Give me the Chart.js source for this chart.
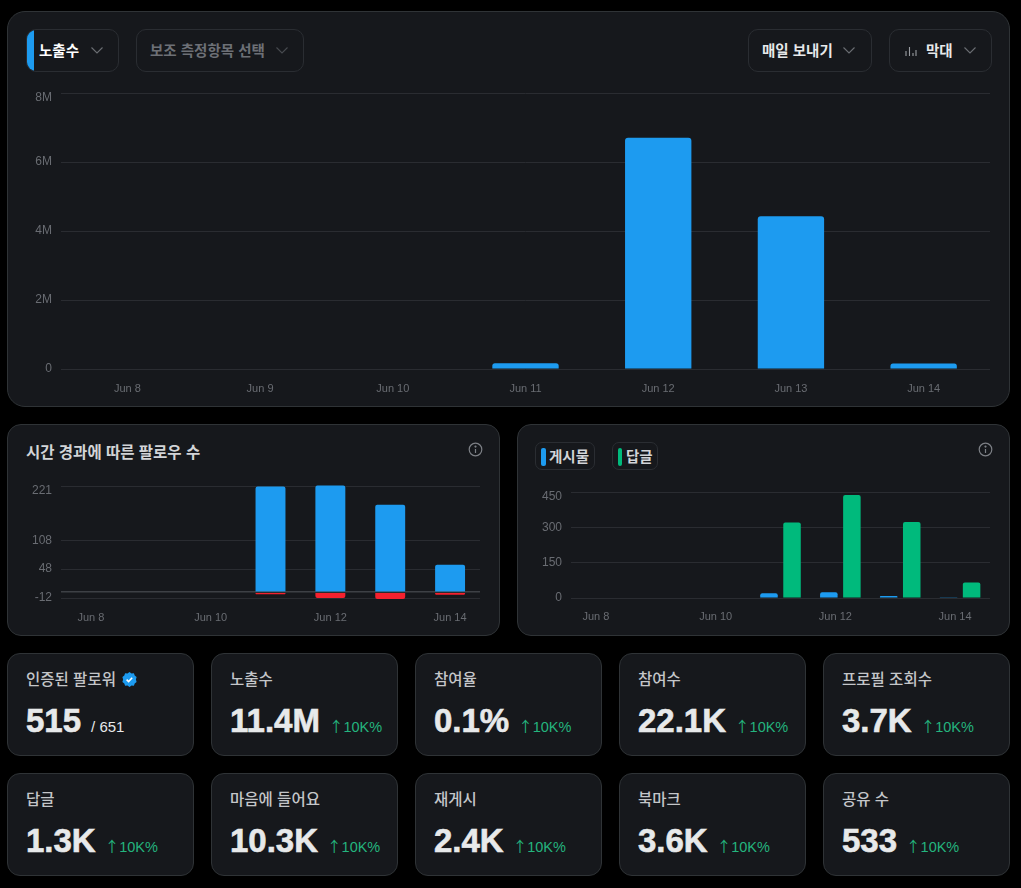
<!DOCTYPE html>
<html lang="ko">
<head>
<meta charset="utf-8">
<title>Analytics</title>
<script src="https://cdn.jsdelivr.net/npm/chart.js@4"></script>
<style>
    * { box-sizing: border-box; }
    html, body { margin: 0; padding: 0; background: #000; }
    body { position: relative; width: 1021px; height: 888px; overflow: hidden; font-family: "Liberation Sans", "Noto Sans CJK KR", sans-serif; }

    .card { position: absolute; background: #16181c; border: 1px solid #2f3336; border-radius: 14px; }
    .abs { position: absolute; }
    .chart-box { position: absolute; }

    .pill { position: absolute; top: 29px; height: 43px; border: 1px solid #2a2d32; border-radius: 10px; overflow: hidden; }
    .pill-text { position: absolute; top: 49px; transform: translateY(-50%); font: 700 14.5px "Noto Sans CJK KR", sans-serif; color: #e7e9ea; white-space: nowrap; }
    .chevron { position: absolute; top: 47px; }

    .title { position: absolute; left: 26px; top: 451px; transform: translateY(-50%); font: 700 15.5px "Noto Sans CJK KR", sans-serif; color: #d2d4d7; }
    .legend-pill { position: absolute; top: 442px; height: 28px; border: 1px solid #2a2d32; border-radius: 7px; }
    .legend-mark { position: absolute; top: 448px; width: 4.5px; height: 18px; border-radius: 2px; }
    .legend-text { position: absolute; top: 455px; transform: translateY(-50%); font: 700 14.5px "Noto Sans CJK KR", sans-serif; color: #d2d4d7; }

    .stat { border-radius: 13px; }
    .stat-label { position: absolute; left: 18px; top: 24px; transform: translateY(-50%); font: 500 15.5px "Noto Sans CJK KR", sans-serif; color: #c4c6c9; white-space: nowrap; }
    .stat-row { position: absolute; left: 18px; top: 48px; display: flex; align-items: baseline; white-space: nowrap; }
    .stat-value { font: 700 33px/38px "Liberation Sans", sans-serif; color: #e7e9ea; -webkit-text-stroke: 0.6px #e7e9ea; }
    .stat-delta { margin-left: 9px; font: 400 14.5px "Liberation Sans", sans-serif; color: #24b47e; }
    .stat-delta span { font-family: "Noto Sans CJK KR", sans-serif; }
    .stat-sub { margin-left: 10px; font: 400 15px "Liberation Sans", sans-serif; color: #e7e9ea; }
</style>
</head>
<body>

<div class="card" style="left:7px; top:11px; width:1002.5px; height:395.5px; border-radius:18px;"></div>
<div class="card" style="left:7px; top:424px; width:492.5px; height:211.5px;"></div>
<div class="card" style="left:517px; top:424px; width:492.5px; height:211.5px;"></div>

<!-- top controls -->
<div class="pill" style="left:26px; width:93px;"><div class="abs" style="left:-1px; top:-1px; width:8px; height:43px; background:#1d9bf0;"></div></div>
<div class="pill-text" style="left:39px; color:#fff;">노출수</div>
<div class="pill" style="left:136px; width:168px;"></div>
<div class="pill-text" style="left:150px; color:#6d7076;">보조 측정항목 선택</div>
<div class="pill" style="left:748px; width:124px;"></div>
<div class="pill-text" style="left:762px;">매일 보내기</div>
<div class="pill" style="left:889px; width:103px;"></div>
<div class="pill-text" style="left:926px;">막대</div>
<svg class="abs" style="left:905px; top:45px;" width="12" height="12" viewBox="0 0 12 12" stroke="#9a9da2" stroke-width="1.1"><path d="M1 11V6M4.5 11V2M8 11V8M11 11V5"/></svg>

<!-- small chart headers -->
<div class="title">시간 경과에 따른 팔로우 수</div>
<div id="legendBox"></div>

<div class="chart-box" style="left:7px; top:85px; width:1002px; height:315px;"><canvas id="impressionChart" width="1002" height="315"></canvas></div>
<div class="chart-box" style="left:7px; top:472px; width:492px; height:158px;"><canvas id="followChart" width="492" height="158"></canvas></div>
<div class="chart-box" style="left:517px; top:478px; width:492px; height:152px;"><canvas id="postChart" width="492" height="152"></canvas></div>

<div id="statBox"></div>

<script>
// data
const days = ['Jun 8', 'Jun 9', 'Jun 10', 'Jun 11', 'Jun 12', 'Jun 13', 'Jun 14'];

const impressions = [0, 0, 0, 170000, 6700000, 4430000, 160000];
const impressionTicks = [0, 2000000, 4000000, 6000000, 8000000];

const followsGained = [0, 0, 0, 220, 222, 182, 57];
const followsLost = [0, 0, 0, -4, -12, -14, -5];
const followTicks = [-12, 0, 48, 108, 221];

const postCounts = [0, 0, 0, 20, 24, 9, 3];
const replyCounts = [0, 0, 0, 321, 437, 323, 66];
const postTicks = [0, 150, 300, 450];

const legendNames = ['게시물', '답글'];

const statLabels = ['인증된 팔로워', '노출수', '참여율', '참여수', '프로필 조회수', '답글', '마음에 들어요', '재게시', '북마크', '공유 수'];
const statValues = ['515', '11.4M', '0.1%', '22.1K', '3.7K', '1.3K', '10.3K', '2.4K', '3.6K', '533'];
const statDelta = '10K%';

const BLUE = '#1d9bf0';
const GREEN = '#00ba7c';
const RED = '#f4212e';
const GRID = '#2a2c31';
const TICK = '#696c72';


// small inline icons
function addChevron(left, color) {
    document.body.insertAdjacentHTML('beforeend',
        `<svg class="chevron" style="left:${left}px" width="12" height="7" viewBox="0 0 12 7" fill="none" stroke="${color}" stroke-width="1.1"><path d="M.5 .5l5.5 5.5L11.5 .5"/></svg>`);
}
addChevron(91, '#6b6e73');
addChevron(276, '#484b50');
addChevron(843, '#6b6e73');
addChevron(964, '#6b6e73');

function addInfo(left) {
    document.body.insertAdjacentHTML('beforeend',
        `<svg class="abs" style="left:${left}px; top:442px" width="15" height="15" viewBox="0 0 15 15" fill="none" stroke="#7d8086" stroke-width="1.2"><circle cx="7.5" cy="7.5" r="6.3"/><path d="M7.5 7v4"/><circle cx="7.5" cy="4.6" r=".5" fill="#7d8086"/></svg>`);
}
[467.5, 977.5].forEach(addInfo);


// legend of the right chart
const legendBox = document.getElementById('legendBox');
const legendSpots = [
    { pill: 535, width: 60, mark: 541, text: 549, color: BLUE },
    { pill: 612, width: 46, mark: 617.5, text: 626, color: GREEN }
];
legendNames.forEach((name, i) => {
    const s = legendSpots[i];
    legendBox.innerHTML += `
        <div class="legend-pill" style="left:${s.pill}px; width:${s.width}px"></div>
        <div class="legend-mark" style="left:${s.mark}px; background:${s.color}"></div>
        <div class="legend-text" style="left:${s.text}px">${name}</div>`;
});


// stat cards
const statLefts = [7, 211, 415, 619, 823];
const statTops = [653, 773];
const statBox = document.getElementById('statBox');
const badge = `<svg style="vertical-align:-2px; margin-left:6px" width="15" height="15" viewBox="0 0 15 15"><path fill="${BLUE}" d="M7.5 0l2 1.4 2.4-.1.8 2.3 1.9 1.4-.7 2.5.7 2.5-1.9 1.4-.8 2.3-2.4-.1-2 1.4-2-1.4-2.4.1-.8-2.3L.4 10l.7-2.5L.4 5l1.9-1.4.8-2.3 2.4.1z"/><path d="M4.6 7.6l2 2 3.6-3.8" fill="none" stroke="#fff" stroke-width="1.5"/></svg>`;

statLabels.forEach((label, i) => {
    const left = statLefts[i % 5];
    const top = statTops[Math.floor(i / 5)];
    const extra = i === 0
        ? `<span class="stat-sub">/ 651</span>`
        : `<span class="stat-delta"><span>↑</span>${statDelta}</span>`;
    statBox.innerHTML += `
        <div class="card stat" style="left:${left}px; top:${top}px; width:187px; height:102.5px">
            <div class="stat-label">${label}${i === 0 ? badge : ''}</div>
            <div class="stat-row"><span class="stat-value">${statValues[i]}</span>${extra}</div>
        </div>`;
});


// ===============================
// charts
// ===============================

Chart.defaults.font.family = '"Liberation Sans", sans-serif';
Chart.defaults.font.size = 11;
Chart.defaults.color = TICK;
Chart.defaults.animation = false;

// the top y label sits a little under its grid line
const shiftTopLabel = {
    id: 'shiftTopLabel',
    beforeDraw(chart) {
        const items = chart.scales.y.getLabelItems();
        let top = items[0];
        items.forEach(item => {
            if (item.options.translation[1] < top.options.translation[1]) top = item;
        });
        top.options.translation[1] += 5;
    }
};

function yAxis(ticks, format, zeroLine) {
    return {
        min: ticks[0],
        max: ticks[ticks.length - 1],
        afterBuildTicks: scale => { scale.ticks = ticks.map(v => ({ value: v })); },
        afterFit: scale => {
            scale.width = 54;
            scale.paddingTop = 0;
            scale.paddingBottom = 0;
        },
        border: { display: false },
        grid: {
            drawTicks: false,
            color: c => (zeroLine && c.tick.value === 0 ? '#3d4045' : GRID),
            lineWidth: c => (zeroLine && c.tick.value === 0 ? 1.5 : 1)
        },
        ticks: { padding: 9, font: { size: 12 }, callback: format }
    };
}

function xAxis(height, padding, everyOther, labelOffset) {
    return {
        afterFit: scale => { scale.height = height; },
        border: { display: false },
        grid: { display: false, drawTicks: false },
        ticks: {
            padding: padding,
            autoSkip: false,
            maxRotation: 0,
            labelOffset: labelOffset,
            callback: (v, i) => (everyOther && i % 2 ? '' : days[i])
        }
    };
}

function baseOptions(top, extra) {
    return Object.assign({
        responsive: false,
        events: [],
        layout: { padding: { top: top, right: 19, left: 0, bottom: 0 } },
        plugins: { legend: { display: false }, tooltip: { enabled: false } }
    }, extra);
}

new Chart(document.getElementById('impressionChart'), {
    type: 'bar',
    plugins: [shiftTopLabel],
    data: {
        labels: days,
        datasets: [{
            data: impressions,
            backgroundColor: BLUE,
            borderRadius: 3,
            barPercentage: 0.5,
            categoryPercentage: 1
        }]
    },
    options: baseOptions(8, {
        scales: {
            x: xAxis(31, 13, false, 0),
            y: yAxis(impressionTicks, v => (v === 0 ? '0' : v / 1000000 + 'M'), false)
        }
    })
});

new Chart(document.getElementById('followChart'), {
    type: 'bar',
    plugins: [shiftTopLabel],
    data: {
        labels: days,
        datasets: [
            { data: followsGained, backgroundColor: BLUE, borderRadius: 2, barPercentage: 0.5, categoryPercentage: 1, clip: false },
            { data: followsLost, backgroundColor: RED, borderRadius: 2, barPercentage: 0.5, categoryPercentage: 1, clip: false }
        ]
    },
    options: baseOptions(14, {
        scales: {
            x: Object.assign(xAxis(32, 13, true, 0), { stacked: true }),
            y: Object.assign(yAxis(followTicks, v => (v === 0 ? '' : String(v)), true), { stacked: true })
        }
    })
});

new Chart(document.getElementById('postChart'), {
    type: 'bar',
    plugins: [shiftTopLabel],
    data: {
        labels: days,
        datasets: [
            { data: postCounts, backgroundColor: BLUE, borderRadius: 2, barPercentage: 0.76, categoryPercentage: 0.77 },
            { data: replyCounts, backgroundColor: GREEN, borderRadius: 2, barPercentage: 0.76, categoryPercentage: 0.77 }
        ]
    },
    options: baseOptions(14, {
        scales: {
            x: xAxis(32, 12, true, -5),
            y: yAxis(postTicks, v => String(v), false)
        }
    })
});
</script>
</body>
</html>
